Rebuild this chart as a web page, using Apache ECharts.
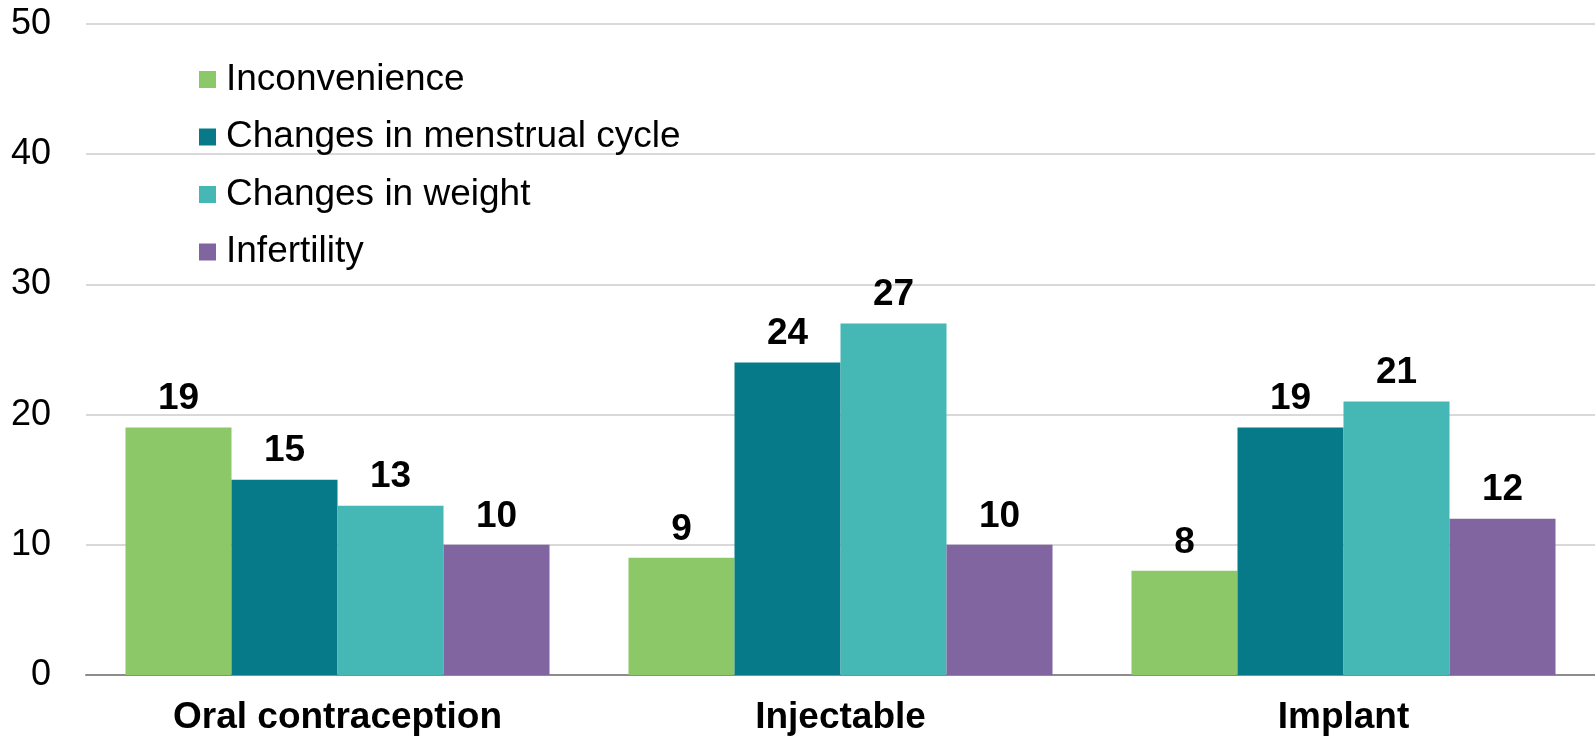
<!DOCTYPE html>
<html>
<head>
    <meta charset="utf-8" />
    <title>ECharts</title>
    <script src="https://cdn.jsdelivr.net/npm/echarts@6.0.0/dist/echarts.min.js"></script>
    <style>
        html, body { margin: 0; padding: 0; background: #fff; }
    </style>
</head>
<body>
    <div id="main" style="width: 1595px;height:741px;"></div>
    <script type="text/javascript">
        // data
        var categories = ['Oral contraception', 'Injectable', 'Implant'];
        var seriesNames = ['Inconvenience', 'Changes in menstrual cycle', 'Changes in weight', 'Infertility'];
        var inconvenience = [19, 9, 8];
        var menstrual = [15, 24, 19];
        var weight = [13, 27, 21];
        var infertility = [10, 10, 12];
        var yTicks = [0, 10, 20, 30, 40, 50];

        var colors = ['#8CC768', '#077A8A', '#45B7B4', '#8065A0'];
        var values = [inconvenience, menstrual, weight, infertility];

        var myChart = echarts.init(document.getElementById('main'));

        var font = 'Liberation Sans, Arial, sans-serif';
        var labelOption = {
            show: true,
            position: 'top',
            distance: 10,
            fontFamily: font,
            fontSize: 37,
            fontWeight: 'bold',
            color: '#000'
        };

        var series = seriesNames.map(function (name, i) {
            return {
                name: name,
                type: 'bar',
                data: values[i],
                barGap: '0%',
                barCategoryGap: '15.7%',
                itemStyle: { color: colors[i] },
                label: labelOption
            };
        });

        var option = {
            animation: false,
            textStyle: { fontFamily: font },
            grid: {
                left: 86,
                right: 0,
                top: 24,
                bottom: 66,
                containLabel: false
            },
            legend: {
                orient: 'vertical',
                left: 194,
                top: 56,
                itemWidth: 17,
                itemHeight: 17,
                itemGap: 20.5,
                icon: 'rect',
                data: seriesNames,
                textStyle: {
                    fontFamily: font,
                    fontSize: 37,
                    color: '#000',
                    padding: [0, 0, 0, 5]
                }
            },
            xAxis: {
                type: 'category',
                data: categories,
                axisTick: { show: false },
                axisLine: { lineStyle: { color: '#8c8c8c', width: 2 } },
                axisLabel: {
                    fontFamily: font,
                    fontSize: 37,
                    fontWeight: 'bold',
                    color: '#000',
                    margin: 24
                }
            },
            yAxis: {
                type: 'value',
                min: yTicks[0],
                max: yTicks[yTicks.length - 1],
                interval: 10,
                axisLine: { show: false },
                axisTick: { show: false },
                splitLine: { lineStyle: { color: '#d9d9d9', width: 2 } },
                axisLabel: {
                    fontFamily: font,
                    fontSize: 36,
                    color: '#000',
                    margin: 35
                }
            },
            series: series
        };

        myChart.setOption(option);
    </script>
</body>
</html>
